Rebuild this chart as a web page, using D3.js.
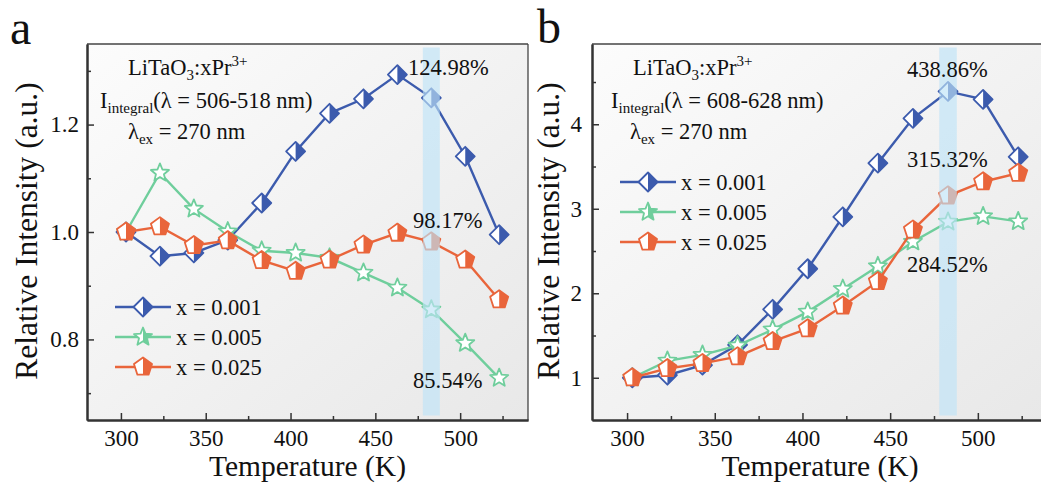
<!DOCTYPE html>
<html><head><meta charset="utf-8">
<script src="https://cdn.jsdelivr.net/npm/d3@7"></script>
<style>body{margin:0;background:#fff;} svg{display:block;} text{font-family:"Liberation Serif","Times New Roman",serif;fill:#111;}</style>
</head><body><svg id="chart" width="1041" height="495"></svg>
<script>
// ---------- data ----------
const temps = [303, 323, 343, 363, 383, 403, 423, 443, 463, 483, 503, 523];
const seriesLabels = ["x = 0.001", "x = 0.005", "x = 0.025"];
// panel a: I_integral 506-518 nm
const aX001 = [1.000, 0.955, 0.961, 0.985, 1.054, 1.150, 1.221, 1.248, 1.293, 1.2498, 1.141, 0.995];
const aX005 = [1.000, 1.110, 1.043, 1.001, 0.965, 0.961, 0.952, 0.924, 0.896, 0.8554, 0.793, 0.728];
const aX025 = [1.000, 1.010, 0.975, 0.984, 0.947, 0.927, 0.948, 0.976, 0.998, 0.9817, 0.948, 0.874];
// panel b: I_integral 608-628 nm
const bX001 = [1.000, 1.030, 1.150, 1.390, 1.810, 2.290, 2.905, 3.540, 4.070, 4.3886, 4.295, 3.615];
const bX005 = [1.000, 1.200, 1.270, 1.380, 1.570, 1.780, 2.050, 2.320, 2.610, 2.8452, 2.910, 2.850];
const bX025 = [1.000, 1.110, 1.170, 1.250, 1.430, 1.580, 1.850, 2.140, 2.750, 3.1532, 3.320, 3.420];
const xTicks = [300, 350, 400, 450, 500];
const xMinorTicks = [325, 375, 425, 475, 525];
const aYTicks = [0.8, 1.0, 1.2];
const aYMinor = [0.7, 0.9, 1.1, 1.3];
const bYTicks = [1, 2, 3, 4];
const bYMinor = [1.5, 2.5, 3.5, 4.5];
const aPercents = ["124.98%", "98.17%", "85.54%"];
const bPercents = ["438.86%", "315.32%", "284.52%"];
const highlightT = 483;

// ---------- style ----------
const colors = ["#3c5bad", "#6fce9c", "#e9653b"];
const shapes = ["diamond", "star", "pentagon"];

const svg = d3.select("#chart");
const defs = svg.append("defs");
const grad = defs.append("linearGradient").attr("id", "bg").attr("x1", "0").attr("y1", "0").attr("x2", "1").attr("y2", "1");
grad.append("stop").attr("offset", "0%").attr("stop-color", "#fcfcfc");
grad.append("stop").attr("offset", "100%").attr("stop-color", "#e8e8e8");

function polyPath(pts) { return "M" + pts.map(p => p[0].toFixed(2) + "," + p[1].toFixed(2)).join("L") + "Z"; }
function shapePts(shape) {
  if (shape === "diamond") {
    const r = 9.5;
    return { full: [[0, -r], [r, 0], [0, r], [-r, 0]], half: [[0, -r], [r, 0], [0, r]] };
  }
  if (shape === "pentagon") {
    const r = 9.5, pts = [];
    for (let k = 0; k < 5; k++) { const a = (-90 + 72 * k) * Math.PI / 180; pts.push([r * Math.cos(a), r * Math.sin(a)]); }
    return { full: pts, half: [pts[0], pts[1], pts[2], [0, pts[2][1]]] };
  }
  // star
  const R = 9.5, ri = 4.2, pts = [];
  for (let k = 0; k < 10; k++) { const rr = k % 2 ? ri : R; const a = (-90 + 36 * k) * Math.PI / 180; pts.push([rr * Math.cos(a), rr * Math.sin(a)]); }
  const half = [[0, -R]].concat(pts.slice(1, 6)).concat([[0, pts[5][1]]]);
  return { full: pts, half: half };
}
function drawMarker(g, x, y, shape, color, halfFill) {
  const s = shapePts(shape);
  const m = g.append("g").attr("transform", `translate(${x},${y})`);
  m.append("path").attr("d", polyPath(s.full)).attr("fill", "#fff");
  if (halfFill) m.append("path").attr("d", polyPath(s.half)).attr("fill", color);
  m.append("path").attr("d", polyPath(s.full)).attr("fill", "none").attr("stroke", color).attr("stroke-width", 1.8).attr("stroke-linejoin", "round");
}

const panels = [
  { letter: "a", left: 87, right: 528, top: 44, bottom: 420, yDomain: [0.65, 1.35], yTicks: aYTicks, yMinor: aYMinor, fmt: d3.format(".1f"),
    series: [aX001, aX005, aX025], percents: aPercents, range: "506-518", yPad: 8,
    titleX: 128, intX: 100, lamX: 128, legX: 115, legY: [307, 337, 367],
    pctPos: [[408, 75], [413, 228], [413, 388]], letterPos: [10, 44] },
  { letter: "b", left: 592, right: 1048, top: 44, bottom: 420, yDomain: [0.5, 4.95], yTicks: bYTicks, yMinor: bYMinor, fmt: d3.format("d"),
    series: [bX001, bX005, bX025], percents: bPercents, range: "608-628", yPad: 10,
    titleX: 633, intX: 611, lamX: 630, legX: 620, legY: [182, 212, 242],
    pctPos: [[907, 77], [907, 167], [907, 272]], letterPos: [537, 43] }
];

panels.forEach(p => {
  const x = d3.scaleLinear().domain([280, 540]).range([p.left, p.right]);
  const y = d3.scaleLinear().domain(p.yDomain).range([p.bottom, p.top]);
  const g = svg.append("g");

  g.append("rect").attr("x", p.left).attr("y", p.top).attr("width", p.right - p.left).attr("height", p.bottom - p.top).attr("fill", "url(#bg)");

  // series
  p.series.forEach((vals, i) => {
    const line = d3.line().x((d, j) => x(temps[j])).y(d => y(d));
    g.append("path").datum(vals).attr("d", line).attr("fill", "none").attr("stroke", colors[i]).attr("stroke-width", 2.4);
    vals.forEach((v, j) => drawMarker(g, x(temps[j]), y(v), shapes[i], colors[i], shapes[i] !== "star"));
  });

  // highlight band
  g.append("rect").attr("x", x(highlightT - 5)).attr("width", x(highlightT + 5) - x(highlightT - 5))
    .attr("y", p.top + 3.5).attr("height", p.bottom - p.top - 8).attr("fill", "#bfe4f8").attr("opacity", 0.65);

  // frame top / right
  g.append("line").attr("x1", p.left).attr("x2", p.right).attr("y1", p.top).attr("y2", p.top).attr("stroke", "#444").attr("stroke-width", 1.3);
  g.append("line").attr("x1", p.right).attr("x2", p.right).attr("y1", p.top).attr("y2", p.bottom).attr("stroke", "#444").attr("stroke-width", 1.3);

  // axes
  const xa = g.append("g").attr("transform", `translate(0,${p.bottom})`)
    .call(d3.axisBottom(x).tickValues(xTicks).tickSize(-7).tickPadding(10).tickSizeOuter(0));
  const xm = g.append("g").attr("transform", `translate(0,${p.bottom})`)
    .call(d3.axisBottom(x).tickValues(xMinorTicks).tickSize(-4).tickFormat("").tickSizeOuter(0));
  const ya = g.append("g").attr("transform", `translate(${p.left},0)`)
    .call(d3.axisLeft(y).tickValues(p.yTicks).tickFormat(p.fmt).tickSize(-7).tickPadding(p.yPad).tickSizeOuter(0));
  const ym = g.append("g").attr("transform", `translate(${p.left},0)`)
    .call(d3.axisLeft(y).tickValues(p.yMinor).tickFormat("").tickSize(-4).tickSizeOuter(0));
  [xa, xm, ya, ym].forEach(a => {
    a.select(".domain").attr("stroke", "#333").attr("stroke-width", 2);
    a.selectAll(".tick line").attr("stroke", "#333").attr("stroke-width", 1.5);
    a.selectAll("text").attr("font-size", 23).attr("font-family", "Liberation Serif").attr("fill", "#111");
  });

  // axis titles
  g.append("text").attr("x", (p.left + p.right) / 2).attr("y", 476).attr("text-anchor", "middle").attr("font-size", 29.5).text("Temperature (K)");
  g.append("text").attr("transform", `translate(${p.letter === "a" ? 37 : 559},231) rotate(-90)`).attr("text-anchor", "middle").attr("font-size", 31.5).text("Relative Intensity (a.u.)");

  // panel letter
  g.append("text").attr("x", p.letterPos[0]).attr("y", p.letterPos[1]).attr("font-size", 48).text(p.letter);

  // annotations
  const t1 = g.append("text").attr("x", p.titleX).attr("y", 75).attr("font-size", 22.5);
  t1.append("tspan").text("LiTaO");
  t1.append("tspan").attr("font-size", 15).attr("dy", 5).text("3");
  t1.append("tspan").attr("dy", -5).text(":xPr");
  t1.append("tspan").attr("font-size", 15).attr("dy", -9).text("3+");
  const t2 = g.append("text").attr("x", p.intX).attr("y", 108).attr("font-size", 22.5);
  t2.append("tspan").text("I");
  t2.append("tspan").attr("font-size", 15).attr("dy", 5).text("integral");
  t2.append("tspan").attr("dy", -5).text(`(λ = ${p.range} nm)`);
  const t3 = g.append("text").attr("x", p.lamX).attr("y", 139).attr("font-size", 22.5);
  t3.append("tspan").text("λ");
  t3.append("tspan").attr("font-size", 15).attr("dy", 5).text("ex");
  t3.append("tspan").attr("dy", -5).text(" = 270 nm");

  p.percents.forEach((s, i) => {
    g.append("text").attr("x", p.pctPos[i][0]).attr("y", p.pctPos[i][1]).attr("font-size", 22.5).text(s);
  });

  // legend
  seriesLabels.forEach((lab, i) => {
    const ly = p.legY[i];
    g.append("line").attr("x1", p.legX).attr("x2", p.legX + 56).attr("y1", ly).attr("y2", ly).attr("stroke", colors[i]).attr("stroke-width", 2.4);
    drawMarker(g, p.legX + 28, ly, shapes[i], colors[i], true);
    g.append("text").attr("x", p.legX + 61).attr("y", ly + 8).attr("font-size", 22.5).text(lab);
  });
});
</script></body></html>
